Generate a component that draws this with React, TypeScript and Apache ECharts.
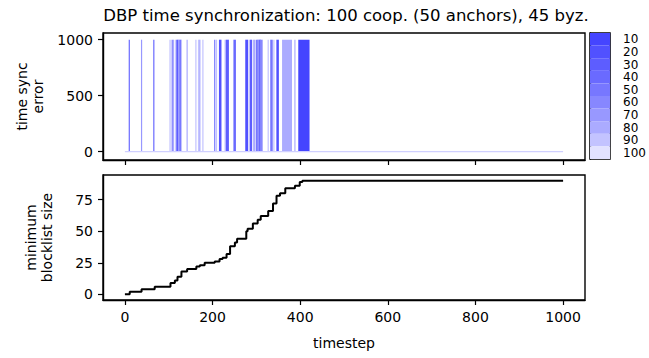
import React, { useEffect, useRef } from 'react';
import * as echarts from 'echarts';

const TITLE = 'DBP time synchronization: 100 coop. (50 anchors), 45 byz.';

// colour levels of the colorbar (10 = darkest)
const LEVELS = ['10', '20', '30', '40', '50', '60', '70', '80', '90', '100'];
const LEVEL_COLORS = ['#4545ff', '#5151ff', '#5d5dff', '#6a6aff', '#7777ff', '#8787ff', '#9898ff', '#ababff', '#c3c3ff', '#e2e2ff'];

// spikes of time sync error (start timestep, end timestep, level)
const SPIKE_START = [10, 38, 66, 103, 108, 111, 117, 120, 123, 126, 129, 142, 162, 168, 171, 178, 205, 209, 216, 229, 232, 249, 276, 286, 294, 300, 304, 307, 310, 327, 333, 340, 347, 360, 388, 397];
const SPIKE_END = [10, 38, 66, 103, 108, 111, 118, 121, 124, 127, 129, 142, 162, 169, 171, 178, 205, 209, 219, 229, 236, 252, 280, 289, 296, 303, 306, 309, 313, 327, 336, 340, 350, 380, 388, 420];
const SPIKE_LEVEL = [40, 70, 40, 90, 50, 80, 60, 30, 70, 40, 90, 80, 90, 90, 80, 90, 50, 90, 20, 80, 30, 40, 20, 30, 80, 50, 70, 40, 60, 90, 50, 90, 20, 80, 80, 10];
const SPIKE_ERR = 1000;

const BASELINE_T = [0, 1000];
const BASELINE_ERR = [0, 0];

// minimum blocklist size (step changes)
const STEP_T = [0, 11, 38, 68, 104, 114, 120, 129, 142, 163, 171, 182, 205, 216, 223, 232, 240, 251, 256, 277, 280, 292, 303, 310, 327, 338, 346, 354, 366, 388, 399, 405, 1000];
const STEP_V = [0, 2, 4, 6, 9, 11, 14, 18, 20, 22, 23, 25, 26, 28, 29, 32, 38, 41, 44, 50, 52, 56, 59, 62, 66, 72, 78, 80, 84, 86, 89, 90, 90];

const X_TICKS = [0, 200, 400, 600, 800, 1000];
const ERR_TICKS = [0, 500, 1000];
const BL_TICKS = [0, 25, 50, 75];

const FONT = 'DejaVu Sans';

export default function App() {
  const ref = useRef<HTMLDivElement>(null);
  useEffect(() => {
    if (!ref.current) return;
    const chart = echarts.init(ref.current, undefined, { renderer: 'svg' });
    const label = { color: '#000', fontSize: 14, fontFamily: FONT };
    const fmt = (v: number) => String(v);
    const line = { show: true, onZero: false, lineStyle: { color: '#000', width: 1.4 } };
    const tick = (vals: number[]) => ({ show: true, length: 5, inside: false, customValues: vals, lineStyle: { color: '#000', width: 1.2 } });
    const gridBase = { show: true, borderColor: '#000', borderWidth: 1.4, backgroundColor: 'transparent', containLabel: false };

    const spikeData = SPIKE_START.map((s, i) => [s, SPIKE_END[i], SPIKE_ERR, SPIKE_LEVEL[i]]);

    chart.setOption({
      animation: false,
      graphic: [
        {
          type: 'text', x: 346, y: 15,
          style: { text: TITLE, textAlign: 'center', textVerticalAlign: 'middle', font: `16.5px "${FONT}"`, fill: '#000' },
        },
      ],
      grid: [
        { ...gridBase, left: 103, top: 33, width: 482, height: 127 },
        { ...gridBase, left: 103, top: 175, width: 482, height: 125 },
        { ...gridBase, left: 590, top: 33, width: 21, height: 126 },
      ],
      xAxis: [
        {
          gridIndex: 0, type: 'value', min: -50, max: 1050,
          axisLine: line, axisTick: tick(X_TICKS), axisLabel: { show: false }, splitLine: { show: false },
        },
        {
          gridIndex: 1, type: 'value', min: -50, max: 1050,
          axisLine: line, axisTick: tick(X_TICKS),
          axisLabel: { ...label, margin: 10, customValues: X_TICKS, formatter: fmt }, splitLine: { show: false },
          name: 'timestep', nameLocation: 'middle', nameGap: 36,
          nameTextStyle: { ...label },
        },
        { gridIndex: 2, type: 'value', min: 0, max: 1, show: false },
      ],
      yAxis: [
        {
          gridIndex: 0, type: 'value', min: -75, max: 1060,
          axisLine: line, axisTick: tick(ERR_TICKS),
          axisLabel: { ...label, margin: 10, customValues: ERR_TICKS, formatter: fmt }, splitLine: { show: false },
          name: 'time sync\nerror', nameLocation: 'middle', nameGap: 50, nameRotate: 90,
          nameTextStyle: { ...label, lineHeight: 16 },
        },
        {
          gridIndex: 1, type: 'value', min: -4.5, max: 94.5,
          axisLine: line, axisTick: tick(BL_TICKS),
          axisLabel: { ...label, margin: 10, customValues: BL_TICKS, formatter: fmt }, splitLine: { show: false },
          name: 'minimum\nblocklist size', nameLocation: 'middle', nameGap: 48, nameRotate: 90,
          nameTextStyle: { ...label, lineHeight: 16 },
        },
        {
          gridIndex: 2, type: 'category', data: LEVELS, inverse: true, position: 'right',
          axisLine: { show: true, lineStyle: { color: '#000', width: 1.4 } },
          axisTick: { show: true, length: 5, alignWithLabel: true, interval: 0, lineStyle: { color: '#000', width: 1.2 } },
          axisLabel: { color: '#000', fontSize: 12, fontFamily: FONT, margin: 13, interval: 0 },
          splitLine: { show: false },
        },
      ],
      series: [
        {
          type: 'line', xAxisIndex: 0, yAxisIndex: 0, symbol: 'none',
          data: BASELINE_T.map((t, i) => [t, BASELINE_ERR[i]]),
          lineStyle: { color: '#d0d0ff', width: 1.2 },
        },
        {
          type: 'custom', xAxisIndex: 0, yAxisIndex: 0,
          data: spikeData,
          encode: { x: [0, 1], y: 2 },
          renderItem: (params: any, api: any) => {
            const s = api.value(0), e = api.value(1), top = api.value(2), lvl = api.value(3);
            const p0 = api.coord([s, top]);
            const p1 = api.coord([e, 0]);
            const x = p0[0] - 0.6;
            const w = Math.max(1.2, p1[0] - p0[0] + 1.2);
            const idx = Math.round(lvl / 10) - 1;
            return {
              type: 'rect',
              shape: { x, y: p0[1], width: w, height: p1[1] - p0[1] },
              style: { fill: LEVEL_COLORS[idx] },
            };
          },
        },
        {
          type: 'line', xAxisIndex: 1, yAxisIndex: 1, symbol: 'none', step: 'end',
          data: STEP_T.map((t, i) => [t, STEP_V[i]]),
          lineStyle: { color: '#000', width: 2 },
        },
        {
          type: 'bar', xAxisIndex: 2, yAxisIndex: 2, barWidth: '100%', barCategoryGap: 0,
          data: LEVELS.map((l, i) => ({ value: 1, itemStyle: { color: LEVEL_COLORS[i] } })),
        },
      ],
    });
    return () => chart.dispose();
  }, []);
  return <div ref={ref} style={{ position: 'absolute', left: 0, top: 0, width: 649, height: 358 }} />;
}
